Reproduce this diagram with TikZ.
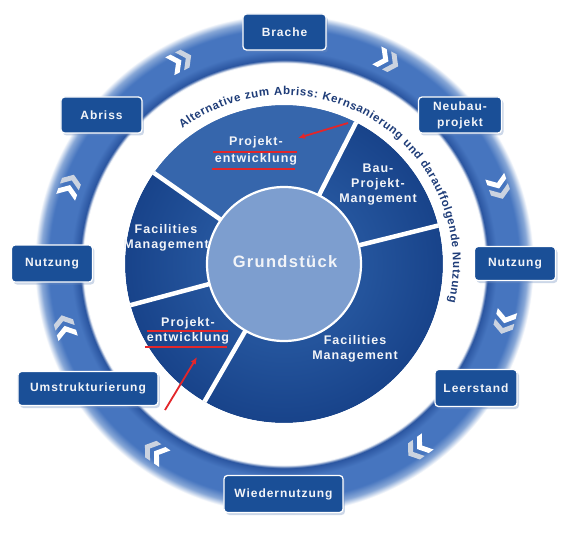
\documentclass[tikz,border=0pt]{standalone}
\usepackage{fontspec}
\setmainfont{Liberation Sans}
\newfontfamily\lblfont[LetterSpace=8]{Liberation Sans}
\newfontfamily\arcfont{Liberation Sans}
\usetikzlibrary{decorations.text,shadows,arrows.meta}

\definecolor{boxblue}{HTML}{1A4F97}
\definecolor{pietop}{HTML}{3666AC}
\definecolor{piedark}{HTML}{18438A}
\definecolor{piemid}{HTML}{24549C}
\definecolor{innerc}{HTML}{7D9ECF}
\definecolor{bandmid}{HTML}{4675BF}
\definecolor{banddark}{HTML}{2A55A0}
\definecolor{bandlight}{HTML}{86A6D6}
\definecolor{arctext}{HTML}{1E3C78}
\definecolor{annot}{HTML}{E3262A}
\definecolor{txtw}{HTML}{F2F4F8}
\definecolor{chevgray}{HTML}{CBD3E0}
\definecolor{boxshadow}{HTML}{6F8DBF}

\pgfdeclareradialshading{bandshade}{\pgfpoint{0bp}{0bp}}{%
color(0bp)=(white); color(20.1bp)=(white); color(20.4bp)=(banddark);
color(21.3bp)=(bandmid); color(23.5bp)=(bandmid); color(24.3bp)=(bandlight);
color(24.95bp)=(white); color(50bp)=(white)}

\pgfdeclareradialshading{pieshade}{\pgfpoint{0bp}{0bp}}{%
color(0bp)=(piemid); color(13bp)=(piemid); color(25bp)=(piedark); color(50bp)=(piedark)}

\tikzset{
  chevpair/.pic={
    \fill[chevgray] (-1,10) -- (5,10) -- (12,0) -- (5,-10) -- (-1,-10) -- (6,0) -- cycle;
    \fill[white] (-12,10) -- (-6,10) -- (1,0) -- (-6,-10) -- (-12,-10) -- (-5,0) -- cycle;
  }
}

\begin{document}
\begin{tikzpicture}[x=1pt,y=1pt,
  box/.style={draw=white, line width=1.3pt, fill=boxblue, rounded corners=3.5pt,
    text=txtw, font=\lblfont\bfseries\fontsize{12}{16}\selectfont, align=center,
    inner sep=0pt, minimum height=36pt,
    drop shadow={shadow xshift=2pt, shadow yshift=-2.5pt, opacity=0.35, fill=boxshadow}},
  pietext/.style={text=txtw, font=\lblfont\bfseries\fontsize{12.5}{15}\selectfont,
    align=center, inner sep=0pt},
  divider/.style={white, line width=4.5pt},
  redline/.style={annot, line width=1.8pt},
  redarrow/.style={annot, line width=1.8pt, -{Latex[length=7pt,width=6pt]}},
]
\fill[white] (-284,-269) rectangle (292,264);
\useasboundingbox (-284,-269) rectangle (292,264);

% outer band
\shade[shading=bandshade] (0,0) circle (250);

% chevrons (clockwise)
\foreach \a in {117,63,19.6,-14.8,-54,235.5,196,160}
  \pic[rotate=\a-90] at (\a:228) {chevpair};

% pie
\shade[shading=pieshade] (0,0) circle (159);
\fill[pietop] (0,0) -- (63:159) arc[start angle=63, end angle=145, radius=159] -- cycle;
\draw[white, line width=3pt] (0,0) circle (160.5);
\foreach \a in {14,63,145,195,240}
  \draw[divider] (\a:77) -- (\a:159);
\fill[innerc] (0,0) circle (77);
\draw[white, line width=2.2pt] (0,0) circle (77);

% arc text
\path[decorate, decoration={text along path, text color=arctext,
  text={|\arcfont\bfseries\fontsize{11.5}{13}\selectfont|Alternative zum Abriss: Kernsanierung und darauffolgende Nutzung},
  text align={fit to path}}]
  (127:169) arc[start angle=127, end angle=-13, radius=169];

% pie texts
\node[pietext] (grund) at (1,2) {\fontsize{16.5}{18}\selectfont Grundstück};
\node[pietext] (pe1) at (-28,113) {Projekt-\\[2pt]entwicklung};
\node[pietext] (bpm) at (94,79) {Bau-\\Projekt-\\Mangement};
\node[pietext] (fm1) at (-118,26.5) {Facilities\\Management};
\node[pietext] (fm2) at (71,-85) {Facilities\\Management};
\node[pietext] (pe2) at (-96,-66.5) {Projekt-\\entwicklung};

% boxes
\node[box, minimum width=83pt] (brache) at (0.5,232) {Brache};
\node[box, minimum width=83pt] (neubau) at (176,149) {Neubau-\\projekt};
\node[box, minimum width=81pt, minimum height=34pt] (nutzr) at (231,0.5) {Nutzung};
\node[box, minimum width=82pt, minimum height=37pt] (leer) at (192,-124) {Leerstand};
\node[box, minimum width=119pt, minimum height=37pt] (wieder) at (-0.5,-230) {Wiedernutzung};
\node[box, minimum width=140pt, minimum height=34pt] (umstr) at (-196,-124.5) {Umstrukturierung};
\node[box, minimum width=81pt, minimum height=37pt] (nutzl) at (-232,0.5) {Nutzung};
\node[box, minimum width=81pt] (abriss) at (-182.5,149) {Abriss};

% red annotations
\draw[redline] (-71,112) -- (13,112);
\draw[redline] (-72,95) -- (11,95);
\draw[redline] (-137,-67) -- (-56,-67);
\draw[redline] (-139,-83) -- (-57,-83);
\coordinate (ra1s) at (64,141);
\coordinate (ra1e) at (14,126);
\coordinate (ra2s) at (-119,-146);
\coordinate (ra2e) at (-87,-93);
\draw[redarrow] (ra1s) -- (ra1e);
\draw[redarrow] (ra2s) -- (ra2e);
\end{tikzpicture}
\end{document}
